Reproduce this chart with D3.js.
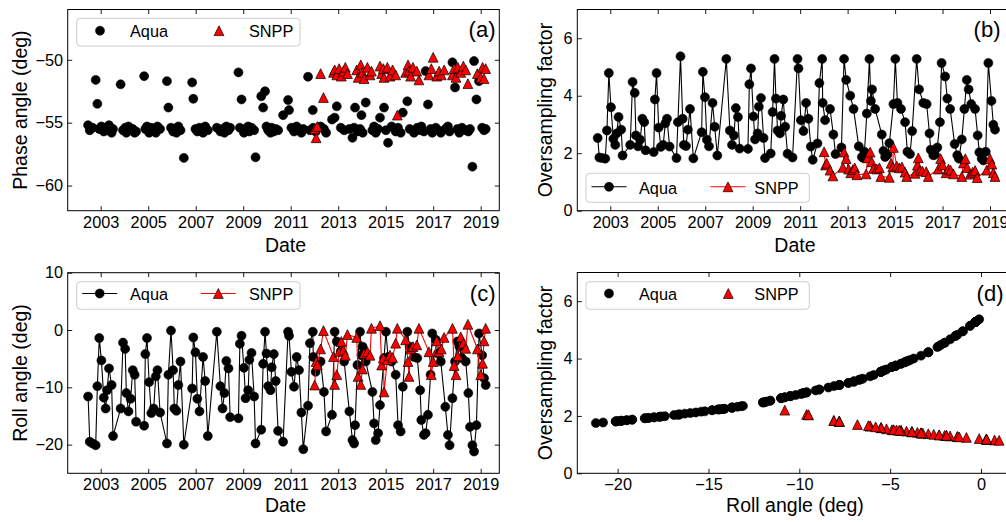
<!DOCTYPE html>
<html><head><meta charset="utf-8">
<script src="https://cdn.jsdelivr.net/npm/d3@7"></script>
<style>
html,body{margin:0;padding:0;background:#fff;overflow:hidden}
svg{display:block}
</style></head><body>
<svg id="chart" width="1006" height="522"></svg>
<script>
// ---------------- data ----------------
const dateTicks = [2003, 2005, 2007, 2009, 2011, 2013, 2015, 2017, 2019];
const dateTickLabels = ["2003", "2005", "2007", "2009", "2011", "2013", "2015", "2017", "2019"];
const phaseTicks = [-60, -55, -50];
const oversTicks = [0, 2, 4, 6];
const rollTicks = [-20, -10, 0, 10];
const rollAxisTicks = [-20, -15, -10, -5, 0];

const seriesNames = ["Aqua", "SNPP"];

const aquaDate = [2002.47,2002.54,2002.66,2002.79,2002.86,2002.94,2003.03,2003.13,2003.21,2003.27,
2003.35,2003.46,2003.52,2003.84,2003.94,2004.03,2004.08,2004.17,2004.26,2004.35,
2004.43,2004.49,2004.83,2004.88,2004.95,2005.04,2005.13,2005.23,2005.32,2005.39,
2005.50,2005.79,2005.85,2005.96,2006.05,2006.10,2006.19,2006.27,2006.36,2006.50,
2006.85,2006.90,2006.99,2007.07,2007.16,2007.31,2007.40,2007.51,2007.89,2008.04,
2008.13,2008.21,2008.29,2008.38,2008.45,2008.80,2008.86,2008.93,2009.03,2009.10,
2009.21,2009.26,2009.35,2009.46,2009.52,2009.76,2009.84,2009.92,2009.98,2010.05,
2010.15,2010.20,2010.29,2010.37,2010.47,2010.68,2010.89,2010.93,2011.03,2011.14,
2011.25,2011.35,2011.45,2011.53,2011.73,2011.81,2011.93,2011.95,2012.05,2012.26,
2012.40,2012.49,2012.74,2012.85,2012.94,2013.11,2013.25,2013.47,2013.60,2013.67,
2013.71,2013.81,2013.92,2013.98,2014.03,2014.16,2014.44,2014.51,2014.58,2014.68,
2014.76,2014.93,2015.01,2015.10,2015.25,2015.42,2015.52,2015.63,2015.72,2015.91,
2016.01,2016.19,2016.33,2016.45,2016.50,2016.61,2016.68,2016.78,2016.89,2016.96,
2017.11,2017.20,2017.32,2017.51,2017.62,2017.69,2017.81,2017.92,2018.02,2018.10,
2018.21,2018.37,2018.48,2018.55,2018.65,2018.72,2018.82,2018.93,2019.06,2019.14,
2019.21];

const aquaRoll = [-11.6,-19.5,-19.8,-20.1,-9.8,-1.4,-5.3,-11.8,-13.7,-10.5,
-6.7,-9.6,-18.5,-13.7,-2.2,-3.3,-11.0,-14.2,-12.0,-7.0,
-7.8,-16.0,-16.7,-4.2,-1.4,-9.1,-14.5,-13.7,-8.1,-7.0,
-14.4,-19.8,-7.8,-0.1,-7.0,-13.7,-14.1,-9.6,-5.5,-20.0,
-10.2,-1.3,-3.9,-12.0,-14.2,-4.7,-8.9,-18.5,-0.3,-9.8,
-13.7,-11.0,-5.4,-6.7,-15.2,-15.4,-2.4,-1.0,-6.6,-11.9,
-10.5,-5.2,-4.0,-11.6,-19.8,-17.4,-5.9,-0.3,-4.1,-9.8,
-10.5,-6.5,-4.2,-8.9,-17.6,-19.5,-0.3,-1.0,-7.3,-9.9,
-4.7,-7.0,-14.4,-20.8,-13.2,-2.3,-0.3,-4.7,-7.3,-5.5,
-10.8,-17.7,-14.8,-0.3,-2.0,-3.7,-5.5,-14.2,-19.2,-19.8,
-16.6,-6.1,-0.3,-4.4,-2.9,-5.5,-10.8,-16.3,-19.2,-18.0,
-13.1,-4.9,-0.3,-4.7,-5.5,-7.8,-16.6,-17.7,-9.9,-0.3,
-2.9,-4.7,-4.9,-10.5,-15.7,-18.3,-18.0,-14.8,-7.8,-0.6,
-1.7,-4.1,-5.5,-13.4,-18.3,-20.1,-11.9,-5.5,-2.0,-2.9,
-4.9,-5.5,-11.0,-16.9,-20.1,-21.2,-16.6,-0.6,-4.4,-8.4,
-9.6];

const aquaOvers = [2.53,1.85,1.83,1.81,2.79,4.79,3.60,2.50,2.29,2.69,
3.26,2.82,1.92,2.29,4.48,4.10,2.62,2.24,2.47,3.20,
3.08,2.10,2.04,3.87,4.79,2.89,2.22,2.29,3.04,3.20,
2.23,1.83,3.08,5.37,3.20,2.29,2.25,2.82,3.54,1.82,
2.73,4.83,3.95,2.47,2.24,3.75,2.92,1.92,5.28,2.79,
2.29,2.62,3.57,3.26,2.16,2.15,4.40,4.95,3.28,2.48,
2.69,3.62,3.92,2.53,1.83,1.99,3.43,5.28,3.90,2.79,
2.69,3.30,3.87,2.92,1.98,1.85,5.28,4.95,3.15,2.77,
3.75,3.20,2.23,1.77,2.34,4.44,5.28,3.75,3.15,3.54,
2.65,1.97,2.20,5.28,4.55,4.00,3.54,2.24,1.87,1.83,
2.05,3.38,5.28,3.82,4.22,3.54,2.65,2.08,1.87,1.95,
2.35,3.71,5.28,3.75,3.54,3.08,2.05,1.97,2.77,5.28,
4.22,3.75,3.71,2.69,2.12,1.93,1.95,2.20,3.08,5.14,
4.67,3.90,3.54,2.32,1.93,1.81,2.48,3.54,4.55,4.22,
3.71,3.54,2.62,2.03,1.81,1.75,2.05,5.14,3.82,2.99,
2.82];

const aquaPhase = [-55.2,-55.6,-55.4,-51.6,-53.5,-55.5,-55.3,-55.7,-55.4,-55.6,
-55.2,-55.8,-55.5,-51.95,-55.6,-55.4,-55.8,-55.3,-55.6,-55.5,
-55.8,-55.7,-51.3,-55.5,-55.3,-55.8,-55.4,-55.6,-55.8,-55.3,
-55.5,-51.7,-53.8,-55.4,-55.7,-55.5,-55.8,-55.3,-55.6,-57.8,
-51.8,-53.1,-55.5,-55.7,-55.4,-55.8,-55.3,-55.6,-55.4,-55.7,
-55.5,-55.8,-55.3,-55.6,-55.4,-51.0,-55.4,-53.15,-55.8,-55.5,
-55.3,-55.7,-55.4,-55.6,-57.75,-52.9,-53.8,-52.5,-55.3,-55.6,
-55.8,-55.4,-55.7,-55.5,-55.6,-54.4,-53.2,-54.0,-55.4,-55.7,
-55.3,-55.6,-55.8,-55.5,-51.35,-55.6,-54.0,-55.4,-55.7,-55.3,
-55.5,-55.8,-54.75,-54.6,-53.7,-55.4,-55.6,-55.5,-56.2,-55.4,
-53.8,-55.7,-55.5,-54.4,-55.8,-53.4,-55.6,-55.3,-55.8,-55.5,
-54.6,-53.8,-55.6,-56.6,-55.3,-55.7,-55.4,-55.8,-54.2,-53.3,
-55.5,-55.8,-55.4,-55.6,-55.3,-55.7,-50.9,-53.55,-55.5,-55.8,
-55.4,-55.6,-55.8,-55.5,-55.3,-55.7,-50.2,-52.2,-55.5,-55.8,
-55.4,-55.6,-55.7,-55.5,-58.5,-50.1,-53.15,-51.7,-55.4,-55.6,
-55.5];

const snppDate = [2012.01,2012.07,2012.12,2012.26,2012.38,2012.80,2012.85,2012.94,2013.04,2013.13,
2013.22,2013.30,2013.39,2013.78,2013.84,2013.95,2014.02,2014.09,2014.23,2014.34,
2014.40,2014.76,2014.83,2014.90,2014.93,2015.07,2015.18,2015.29,2015.42,2015.49,
2015.84,2015.94,2015.98,2016.05,2016.15,2016.31,2016.40,2016.82,2016.92,2017.00,
2017.15,2017.25,2017.34,2017.46,2017.81,2017.88,2017.96,2018.04,2018.16,2018.27,
2018.37,2018.46,2018.86,2019.00,2019.08,2019.14,2019.21];

const snppRoll = [-9.6,-5.5,-6.1,-3.3,-0.1,-4.65,-9.5,-7.8,-3.8,-2.0,
-3.5,-4.4,-0.8,-1.3,-8.1,-9.5,-6.8,-4.1,-3.8,-4.4,
0.3,0.75,-6.1,-4.9,-10.8,-5.2,-4.4,-4.8,-2.3,0.3,
-1.7,-5.5,-8.1,-3.3,-2.9,-2.6,0.3,-3.8,-7.8,-5.5,
-1.9,-3.8,-3.3,-1.3,0.3,-6.2,-7.8,-4.5,-1.2,-2.3,
-3.2,1.0,-3.3,-7.8,-5.8,-1.9,0.3];

const snppOvers = [2.05,1.59,1.65,1.41,1.21,1.51,2.04,1.81,1.45,1.32,
1.43,1.49,1.25,1.28,1.84,2.04,1.70,1.47,1.45,1.49,
1.19,1.16,1.65,1.52,2.20,1.55,1.49,1.52,1.34,1.19,
1.30,1.59,1.84,1.41,1.38,1.36,1.19,1.45,1.81,1.59,
1.32,1.45,1.41,1.28,1.19,1.66,1.81,1.50,1.27,1.34,
1.40,1.15,1.41,1.81,1.62,1.32,1.19];

const snppPhase = [-55.5,-56.2,-55.3,-51.1,-53.0,-51.0,-50.8,-51.2,-50.7,-51.3,
-50.9,-50.6,-51.1,-50.8,-51.4,-50.4,-51.0,-51.5,-50.6,-51.2,
-50.9,-50.5,-51.1,-50.7,-51.4,-50.6,-51.3,-50.8,-51.2,-54.4,
-51.0,-50.4,-50.9,-51.3,-50.6,-50.9,-51.6,-51.2,-50.7,-49.8,
-51.3,-50.9,-51.2,-50.8,-51.2,-50.7,-51.4,-50.6,-51.0,-50.5,
-50.8,-51.9,-51.1,-51.4,-50.6,-51.5,-50.7];

// ---------------- drawing ----------------
const FONT = '"Liberation Sans", Arial, Helvetica, sans-serif';
const TICK_FS = 16.3, TITLE_FS = 19.5, LEG_FS = 16.3, TAG_FS = 22;
const R = 4.5, TRI = 4.9;
const svg = d3.select('#chart').style('font-family', FONT);

const aqua = aquaDate.map((d, i) => ({date: d, roll: aquaRoll[i], overs: aquaOvers[i], phase: aquaPhase[i]}));
const snpp = snppDate.map((d, i) => ({date: d, roll: snppRoll[i], overs: snppOvers[i], phase: snppPhase[i]}));

const boxes = {
  a: {l: 67.7, r: 499.3, t: 9.5, b: 210.7, rightTicks: true},
  b: {l: 577.3, r: 1008.6, t: 9.5, b: 210.7, rightTicks: false},
  c: {l: 67.7, r: 499.3, t: 272.7, b: 473.3, rightTicks: true},
  d: {l: 577.3, r: 1008.6, t: 272.5, b: 473.3, rightTicks: false}
};
const dateDomain = [2001.611, 2019.783];

function triPath(s) { return `M0,${-s}L${s},${s}L${-s},${s}Z`; }

function styleAxis(g, showText) {
  g.attr('font-size', null).attr('font-family', null);
  g.select('.domain').remove();
  g.selectAll('.tick line').attr('stroke', '#000').attr('stroke-width', 0.9);
  g.selectAll('.tick text').attr('fill', '#000').style('font-size', TICK_FS + 'px').style('font-family', FONT);
  if (!showText) g.selectAll('.tick text').remove();
}

function panel(box, cfg) {
  const g = svg.append('g');
  const x = d3.scaleLinear().domain(cfg.xDomain).range([box.l, box.r]);
  const y = d3.scaleLinear().domain(cfg.yDomain).range([box.b, box.t]);
  const fmtX = (d, i) => cfg.xLabels ? cfg.xLabels[i] : d3.format('d')(d);
  g.append('g').attr('transform', `translate(0,${box.b})`)
    .call(d3.axisBottom(x).tickValues(cfg.xTicks).tickFormat(fmtX).tickSizeInner(-4.5).tickSizeOuter(0).tickPadding(5.5))
    .call(a => styleAxis(a, true));
  g.append('g').attr('transform', `translate(0,${box.t})`)
    .call(d3.axisTop(x).tickValues(cfg.xTicks).tickSizeInner(-4.5).tickSizeOuter(0))
    .call(a => styleAxis(a, false));
  g.append('g').attr('transform', `translate(${box.l},0)`)
    .call(d3.axisLeft(y).tickValues(cfg.yTicks).tickFormat(d3.format('d')).tickSizeInner(-4.5).tickSizeOuter(0).tickPadding(4.7))
    .call(a => styleAxis(a, true));
  if (box.rightTicks) {
    g.append('g').attr('transform', `translate(${box.r},0)`)
      .call(d3.axisRight(y).tickValues(cfg.yTicks).tickSizeInner(-4.5).tickSizeOuter(0))
      .call(a => styleAxis(a, false));
  }

  const clipId = 'clip' + cfg.tag.replace(/\W/g, '');
  g.append('clipPath').attr('id', clipId).append('rect')
    .attr('x', box.l).attr('y', box.t).attr('width', box.r - box.l).attr('height', box.b - box.t);
  const plot = g.append('g').attr('clip-path', `url(#${clipId})`);

  cfg.series.forEach(s => {
    if (s.line) {
      plot.append('path').datum(s.data)
        .attr('d', d3.line().x(d => x(s.x(d))).y(d => y(s.y(d))))
        .attr('fill', 'none').attr('stroke', s.color).attr('stroke-width', 1.1);
    }
    if (s.marker === 'circle') {
      plot.selectAll(null).data(s.data).enter().append('circle')
        .attr('cx', d => x(s.x(d))).attr('cy', d => y(s.y(d))).attr('r', R)
        .attr('fill', '#000').attr('stroke', '#000').attr('stroke-width', 0.6);
    } else {
      plot.selectAll(null).data(s.data).enter().append('path')
        .attr('d', triPath(TRI))
        .attr('transform', d => `translate(${x(s.x(d))},${y(s.y(d))})`)
        .attr('fill', '#ff0000').attr('stroke', '#000').attr('stroke-width', 0.7);
    }
  });

  // spines
  g.append('rect').attr('x', box.l).attr('y', box.t).attr('width', box.r - box.l).attr('height', box.b - box.t)
    .attr('fill', 'none').attr('stroke', '#000').attr('stroke-width', 1);

  // titles
  g.append('text').attr('x', (box.l + box.r) / 2 + 2).attr('y', cfg.xTitleY)
    .attr('text-anchor', 'middle').style('font-size', TITLE_FS + 'px').attr('fill', '#000').text(cfg.xTitle);
  g.append('text').attr('transform', `translate(${cfg.yTitleX},${(box.t + box.b) / 2}) rotate(-90)`)
    .attr('text-anchor', 'middle').style('font-size', TITLE_FS + 'px').attr('fill', '#000').text(cfg.yTitle);
  g.append('text').attr('x', cfg.tagX).attr('y', cfg.tagY).attr('text-anchor', 'end')
    .style('font-size', TAG_FS + 'px').attr('fill', '#000').text(cfg.tag);

  // legend
  const L = cfg.legend;
  const lg = g.append('g');
  lg.append('rect').attr('x', L.x0).attr('y', L.y0).attr('width', L.x1 - L.x0).attr('height', L.y1 - L.y0)
    .attr('rx', 3.5).attr('fill', '#fff').attr('fill-opacity', 0.8).attr('stroke', '#cccccc').attr('stroke-width', 1);
  cfg.series.forEach((s, i) => {
    const mx = L.markers[i], my = L.my;
    if (s.line) {
      lg.append('line').attr('x1', mx - 17.5).attr('x2', mx + 17.5).attr('y1', my).attr('y2', my)
        .attr('stroke', s.color).attr('stroke-width', 1.1);
    }
    if (s.marker === 'circle') {
      lg.append('circle').attr('cx', mx).attr('cy', my).attr('r', R).attr('fill', '#000').attr('stroke', '#000').attr('stroke-width', 0.6);
    } else {
      lg.append('path').attr('d', triPath(TRI)).attr('transform', `translate(${mx},${my})`)
        .attr('fill', '#ff0000').attr('stroke', '#000').attr('stroke-width', 0.7);
    }
    lg.append('text').attr('x', L.texts[i]).attr('y', L.ty).style('font-size', LEG_FS + 'px').attr('fill', '#000').text(seriesNames[i]);
  });
}

const byDate = d => d.date;

panel(boxes.a, {
  xDomain: dateDomain, yDomain: [-62, -46], xTicks: dateTicks, xLabels: dateTickLabels, yTicks: phaseTicks,
  xTitle: 'Date', xTitleY: 251.5, yTitle: 'Phase angle (deg)', yTitleX: 26.7,
  tag: '(a)', tagX: 495.5, tagY: 37.2,
  series: [
    {data: aqua, x: byDate, y: d => d.phase, marker: 'circle', color: '#000', line: false},
    {data: snpp, x: byDate, y: d => d.phase, marker: 'tri', color: '#ff0000', line: false}
  ],
  legend: {x0: 76.7, x1: 300, y0: 18.3, y1: 46, markers: [100, 219], texts: [130, 249], my: 30.7, ty: 36.8}
});

panel(boxes.b, {
  xDomain: dateDomain, yDomain: [0, 7], xTicks: dateTicks, xLabels: dateTickLabels, yTicks: oversTicks,
  xTitle: 'Date', xTitleY: 251.5, yTitle: 'Oversampling factor', yTitleX: 551.5,
  tag: '(b)', tagX: 1000.5, tagY: 36.5,
  series: [
    {data: aqua, x: byDate, y: d => d.overs, marker: 'circle', color: '#000', line: true},
    {data: snpp, x: byDate, y: d => d.overs, marker: 'tri', color: '#ff0000', line: true}
  ],
  legend: {x0: 586, x1: 809.3, y0: 173.3, y1: 202.3, markers: [609, 728], texts: [639, 754.3], my: 186.8, ty: 193.5}
});

panel(boxes.c, {
  xDomain: dateDomain, yDomain: [-25, 10], xTicks: dateTicks, xLabels: dateTickLabels, yTicks: rollTicks,
  xTitle: 'Date', xTitleY: 511.5, yTitle: 'Roll angle (deg)', yTitleX: 26.7,
  tag: '(c)', tagX: 495.5, tagY: 300.5,
  series: [
    {data: aqua, x: byDate, y: d => d.roll, marker: 'circle', color: '#000', line: true},
    {data: snpp, x: byDate, y: d => d.roll, marker: 'tri', color: '#ff0000', line: true}
  ],
  legend: {x0: 76.7, x1: 300, y0: 281.7, y1: 309.3, markers: [99.7, 218.3], texts: [130, 249], my: 293.5, ty: 300}
});

panel(boxes.d, {
  xDomain: [-22.22, 1.52], yDomain: [0, 7], xTicks: rollAxisTicks, xLabels: null, yTicks: oversTicks,
  xTitle: 'Roll angle (deg)', xTitleY: 511.5, yTitle: 'Oversampling factor', yTitleX: 551.5,
  tag: '(d)', tagX: 1003.5, tagY: 300.5,
  series: [
    {data: aqua, x: d => d.roll, y: d => d.overs, marker: 'circle', color: '#000', line: false},
    {data: snpp, x: d => d.roll, y: d => d.overs, marker: 'tri', color: '#ff0000', line: false}
  ],
  legend: {x0: 586, x1: 809.3, y0: 281.7, y1: 309.3, markers: [609, 728.3], texts: [639, 754.3], my: 293.5, ty: 300}
});
</script>
</body></html>
